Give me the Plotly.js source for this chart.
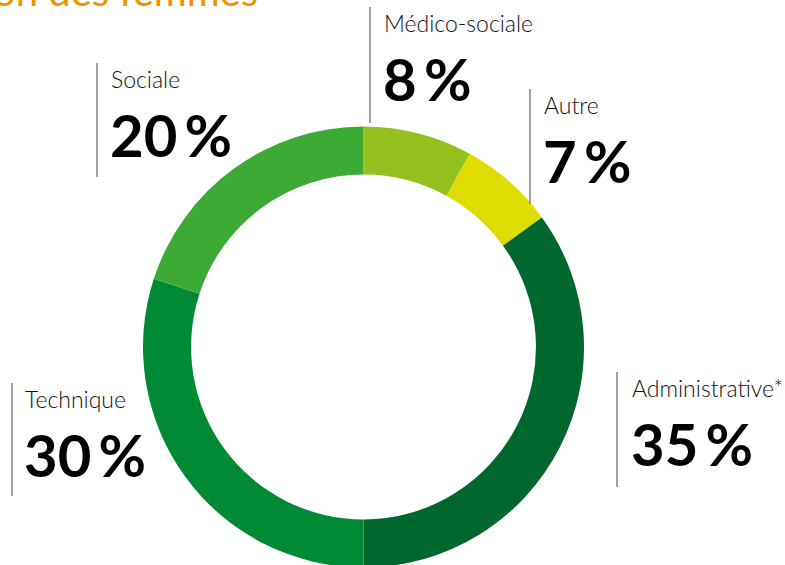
<!DOCTYPE html>
<html>
<head>
<meta charset="utf-8">
<script src="https://cdn.plot.ly/plotly-3.0.1.min.js"></script>
<style>
html,body{margin:0;padding:0;overflow:hidden;background:#fff;}
#chart{width:785px;height:575px;}
</style>
</head>
<body>
<div id="chart"></div>
<script>
// ---- data ----
const categories = ['Médico-sociale', 'Autre', 'Administrative*', 'Technique', 'Sociale'];
const shares = [8, 7, 35, 30, 20];
const sliceColors = ['#95C11F', '#DEDC00', '#00672F', '#008A36', '#3DAA35'];
const titleText = 'Répartition des femmes';

// ---- layout helpers (pixel positions of the callouts) ----
const W = 785, H = 575;
const px = x => x / W;
const py = y => (H - y) / H;
// line x, line top, line bottom, text x
const callouts = [
  {lx: 370, y0: 7,   y1: 123, tx: 384},
  {lx: 530, y0: 89,  y1: 204, tx: 544},
  {lx: 617, y0: 372, y1: 487, tx: 632},
  {lx: 12,  y0: 383, y1: 496, tx: 25},
  {lx: 97,  y0: 63,  y1: 177, tx: 111}
];

const font = 'Lato, "Open Sans", sans-serif';
const annotations = [];
const shapes = [];
categories.forEach((c, i) => {
  const p = callouts[i];
  shapes.push({type: 'line', xref: 'paper', yref: 'paper',
    x0: px(p.lx), x1: px(p.lx), y0: py(p.y0), y1: py(p.y1),
    line: {color: '#6f6f6f', width: 1.3}});
  annotations.push({xref: 'paper', yref: 'paper', x: px(p.tx - 2), y: py(p.y0),
    xanchor: 'left', yanchor: 'top', showarrow: false, text: c,
    font: {family: font, size: 23, color: '#111', weight: 300}});
  annotations.push({xref: 'paper', yref: 'paper', x: px(p.tx - 3), y: py(p.y0 + 35),
    xanchor: 'left', yanchor: 'top', showarrow: false, text: shares[i] + '\u2009%',
    font: {family: font, size: 58, color: '#000', weight: 700}});
});
annotations.push({xref: 'paper', yref: 'paper', x: px(260), y: py(17),
  xanchor: 'right', yanchor: 'bottom', showarrow: false, text: titleText,
  font: {family: font, size: 40, color: '#F39200'}});

const data = [{
  type: 'pie',
  labels: categories,
  values: shares,
  sort: false,
  direction: 'clockwise',
  rotation: 0,
  hole: 0.782,
  textinfo: 'none',
  hoverinfo: 'label+percent',
  marker: {colors: sliceColors, line: {width: 0}},
  domain: {x: [143 / W, 584 / W], y: [(H - 567.5) / H, (H - 126.5) / H]}
}];

const layout = {
  width: W, height: H,
  margin: {l: 0, r: 0, t: 0, b: 0},
  paper_bgcolor: '#fff',
  showlegend: false,
  annotations: annotations,
  shapes: shapes
};

Plotly.newPlot('chart', data, layout, {displayModeBar: false, staticPlot: true});
</script>
</body>
</html>
